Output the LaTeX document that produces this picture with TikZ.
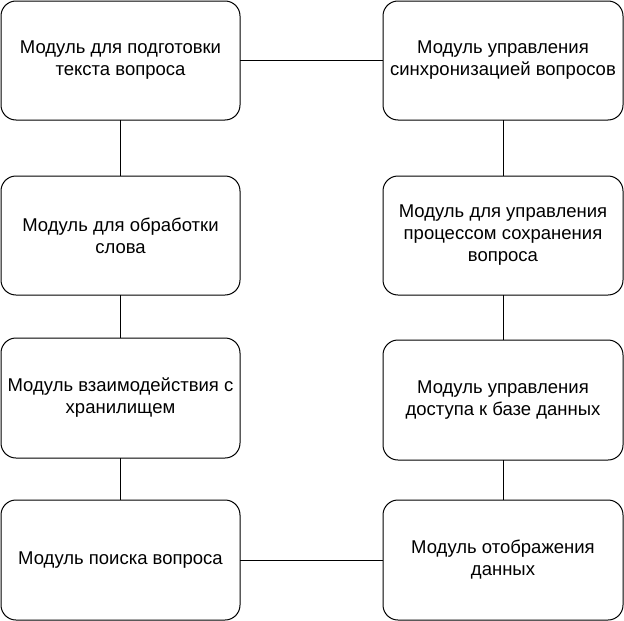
\documentclass[tikz,border=0pt]{standalone}
\usepackage{fontspec}
\setmainfont{Liberation Sans}
\usetikzlibrary{positioning}

\begin{document}
\begin{tikzpicture}[x=1pt, y=1pt,
modbox/.style={rectangle, draw=black, line width=1pt, rounded corners=15pt, align=center, font=\fontsize{18.5}{22}\selectfont, minimum width=239pt, minimum height=119pt, inner sep=0pt, outer sep=0pt},
link/.style={draw=black, line width=0.8pt}
]
\useasboundingbox (0,0) rectangle (624,-621);
% left column
\node[modbox] (prep) at (120.5,-60.5) {Модуль для подготовки\\текста вопроса};
\node[modbox, below=56pt of prep] (word) {Модуль для обработки\\слова};
\node[modbox, below=43pt of word, minimum height=120pt] (store) {Модуль взаимодействия с\\хранилищем};
\node[modbox, below=42pt of store, minimum height=120pt] (search) {Модуль поиска вопроса};
% right column
\node[modbox, minimum width=240pt] (sync) at (503,-60.5) {Модуль управления\\синхронизацией вопросов};
\node[modbox, minimum width=240pt, below=56pt of sync] (save) {Модуль для управления\\процессом сохранения\\вопроса};
\node[modbox, minimum width=240pt, minimum height=120pt, below=45pt of save] (access) {Модуль управления\\доступа к базе данных};
\node[modbox, minimum width=240pt, minimum height=120pt, below=40pt of access] (show) {Модуль отображения\\данных};

\draw[link] (prep) -- (sync);
\draw[link] (prep) -- (word);
\draw[link] (word) -- (store);
\draw[link] (store) -- (search);
\draw[link] (search) -- (show);
\draw[link] (sync) -- (save);
\draw[link] (save) -- (access);
\draw[link] (access) -- (show);
\end{tikzpicture}
\end{document}
